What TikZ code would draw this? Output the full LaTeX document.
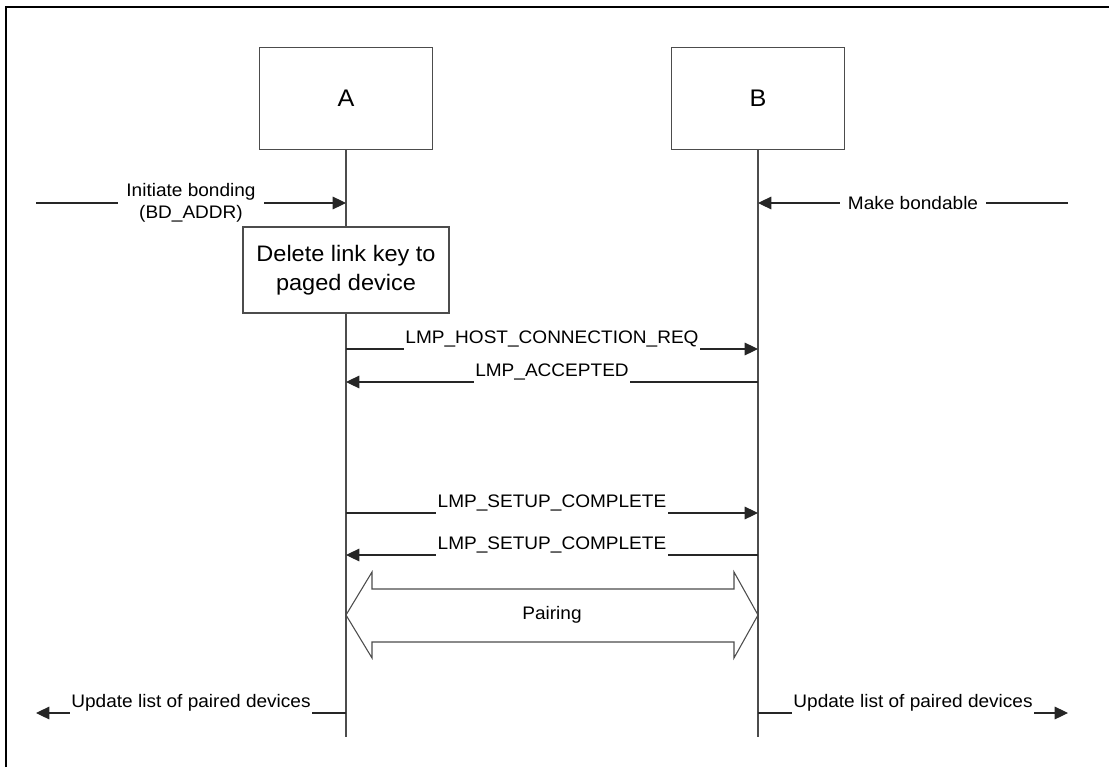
\documentclass[tikz,border=0pt]{standalone}
\usepackage{fontspec}
\setmainfont{Liberation Sans}[FakeStretch=1.05]
\usetikzlibrary{arrows.meta,positioning,calc}
\tikzset{
  seqarr/.style={-{Triangle[length=10pt,width=9.5pt]}, draw=black!85, line width=0.8pt},
  seqline/.style={draw=black!70, line width=0.8pt},
  seqbox/.style={draw=black!70, line width=0.8pt, align=center, inner sep=2pt},
  seqlbl/.style={fill=white, inner xsep=1pt, inner ysep=1pt, font=\fontsize{13.6}{16.5}\selectfont},
}

\begin{document}
\begin{tikzpicture}[
  x=0.75pt, y=-0.75pt,
  ent/.style={seqbox, minimum width=130pt, minimum height=77pt, font=\fontsize{18}{20}\selectfont},
  act/.style={seqbox, fill=white, minimum width=154.5pt, minimum height=64.5pt, font=\fontsize{16.8}{22}\selectfont},
  overline/.style={seqlbl, anchor=base, yshift=4pt, text depth=4pt},
]
  \useasboundingbox (0,0) rectangle (1109,767);
  \draw[line width=1.6pt] (6,767) -- (6,7) -- (1109,7);

  \node[ent] (devA) at (346,98.5) {A};
  \node[ent] (devB) at (758,98.5) {B};
  \coordinate (endA) at (devA |- 0,737);
  \coordinate (endB) at (devB |- 0,737);
  \draw[seqline] (devA.south) -- (endA);
  \draw[seqline] (devB.south) -- (endB);

  \foreach \y/\nm in {203/ib, 349/hc, 382/ac, 513/sa, 555/sb, 615/pr, 713/up} {
    \coordinate (A\nm) at (devA |- 0,\y);
    \coordinate (B\nm) at (devB |- 0,\y);
  }
  \coordinate (hostL) at (36,203);
  \coordinate (hostR) at (1068,203);
  \coordinate (outL) at (36,713);
  \coordinate (outR) at (1068,713);

  \node[act] (delkey) at (346,270) {Delete link key to\\paged device};

  % host side
  \draw[seqarr] (hostL) -- node[seqlbl, inner xsep=6pt, align=center] (ibond) {Initiate bonding\\(BD\_ADDR)} (Aib);
  \draw[seqarr] (hostR) -- node[seqlbl, inner xsep=6pt] (mbond) {Make bondable} (Bib);

  % LMP messages
  \draw[seqarr] (Ahc) -- node[overline] (hcreq) {LMP\_HOST\_CONNECTION\_REQ} (Bhc);
  \draw[seqarr] (Bac) -- node[overline] (accpt) {LMP\_ACCEPTED} (Aac);
  \draw[seqarr] (Asa) -- node[overline] (setupA) {LMP\_SETUP\_COMPLETE} (Bsa);
  \draw[seqarr] (Bsb) -- node[overline] (setupB) {LMP\_SETUP\_COMPLETE} (Asb);

  % pairing
  \draw[seqline] (Apr) -- ++(26,-43) -- ++(0,17) -- ++(362,0) -- ++(0,-17) -- (Bpr)
    -- ++(-24,43) -- ++(0,-16) -- ++(-362,0) -- ++(0,16) -- cycle;
  \node[seqlbl, fill=none] (pair) at ($(Apr)!0.5!(Bpr)$) {Pairing};

  \draw[seqarr] (Aup) -- node[overline] (updA) {Update list of paired devices} (outL);
  \draw[seqarr] (Bup) -- node[overline] (updB) {Update list of paired devices} (outR);
\end{tikzpicture}
\end{document}
